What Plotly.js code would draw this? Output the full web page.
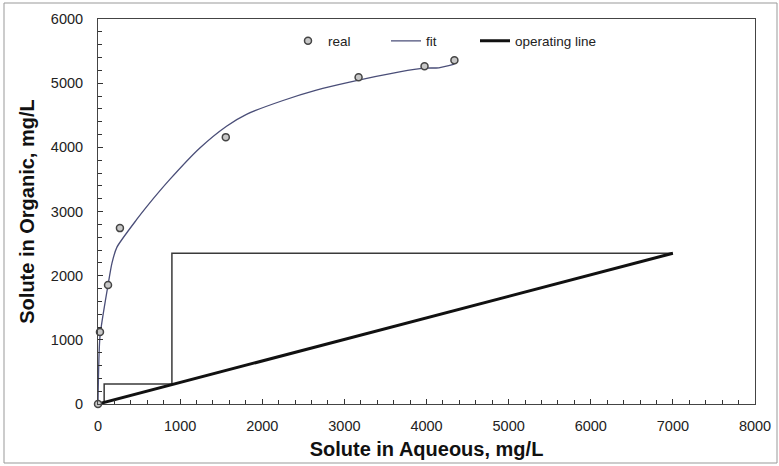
<!DOCTYPE html>
<html>
<head>
<meta charset="utf-8">
<script src="https://cdn.plot.ly/plotly-3.0.1.min.js"></script>
<style>html,body{margin:0;padding:0;background:#fff;}#chart{width:779px;height:466px;}</style>
</head>
<body>
<div id="chart"></div>
<script>
// measured data
const realX = [0, 24, 122, 267, 1556, 3173, 3976, 4340];
const realY = [0, 1121, 1854, 2741, 4159, 5093, 5265, 5358];

const fitX = [0, 24, 122, 170, 231, 474, 596, 875, 1240, 1565, 1808, 2253, 2659, 3064, 3672, 3976, 4150, 4340];
const fitY = [0, 1050, 1854, 2196, 2445, 2880, 3080, 3500, 3990, 4330, 4515, 4730, 4891, 5016, 5176, 5234, 5240, 5296];

const opX = [0, 7000];
const opY = [0, 2350];

const stepX = [7000, 900, 900, 75, 75];
const stepY = [2350, 2350, 310, 310, 25];

const xTitle = 'Solute in Aqueous, mg/L';
const yTitle = 'Solute in Organic, mg/L';

const F = 'Liberation Sans, Arial, sans-serif';

const traces = [
  {x: fitX, y: fitY, mode: 'lines', name: 'fit', legend: 'legend2',
   line: {color: '#4a4e78', width: 1.3, shape: 'spline', smoothing: 0.6}},
  {x: stepX, y: stepY, mode: 'lines', name: 'steps', showlegend: false,
   line: {color: '#3a3a3a', width: 1.5}},
  {x: opX, y: opY, mode: 'lines', name: 'operating line', legend: 'legend3',
   line: {color: '#111', width: 3}},
  {x: realX, y: realY, mode: 'markers', name: 'real', legend: 'legend', cliponaxis: false,
   marker: {symbol: 'circle', size: 7, color: '#c8c8c8', line: {color: '#444', width: 1.5}}}
];

const px = v => (v - 98) / 657;
const py = v => (404 - v) / 385;

const legBase = {orientation: 'h', yanchor: 'middle', xanchor: 'left', y: py(41),
  bgcolor: 'rgba(0,0,0,0)', borderwidth: 0, font: {family: F, size: 13.5, color: '#222'}};

const layout = {
  width: 779, height: 466,
  margin: {l: 98, r: 24, t: 19, b: 62},
  paper_bgcolor: '#fff', plot_bgcolor: '#fff',
  font: {family: F, color: '#111'},
  showlegend: true,
  legend: Object.assign({}, legBase, {x: px(288)}),
  legend2: Object.assign({}, legBase, {x: px(386)}),
  legend3: Object.assign({}, legBase, {x: px(475)}),
  xaxis: {
    range: [0, 8000], dtick: 1000, tick0: 0, showgrid: false, zeroline: false,
    ticks: 'inside', ticklen: 5, tickcolor: '#333', tickwidth: 1,
    minor: {dtick: 200, ticks: 'inside', ticklen: 4, tickcolor: '#333', showgrid: false},
    showline: true, linecolor: '#444', linewidth: 1, mirror: true,
    ticklabelstandoff: 9,
    tickfont: {family: F, size: 14.5, color: '#222'},
    title: {text: '<b>' + xTitle + '</b>', font: {family: F, size: 20, color: '#111'}, standoff: 8}
  },
  yaxis: {
    range: [0, 6000], dtick: 1000, tick0: 0, showgrid: false, zeroline: false,
    ticks: 'inside', ticklen: 5, tickcolor: '#333', tickwidth: 1,
    minor: {dtick: 200, ticks: 'inside', ticklen: 4, tickcolor: '#333', showgrid: false},
    showline: true, linecolor: '#444', linewidth: 1, mirror: true,
    ticklabelstandoff: 11,
    tickfont: {family: F, size: 14.5, color: '#222'},
    title: {text: '<b>' + yTitle + '</b>', font: {family: F, size: 20, color: '#111'}, standoff: 10}
  },
  shapes: [
    {type: 'rect', xref: 'paper', yref: 'paper', x0: px(4), x1: px(777), y0: py(463), y1: py(3),
     line: {color: '#999', width: 1}, fillcolor: 'rgba(0,0,0,0)', layer: 'below'}
  ]
};

Plotly.newPlot('chart', traces, layout, {displayModeBar: false, staticPlot: true});
</script>
</body>
</html>
